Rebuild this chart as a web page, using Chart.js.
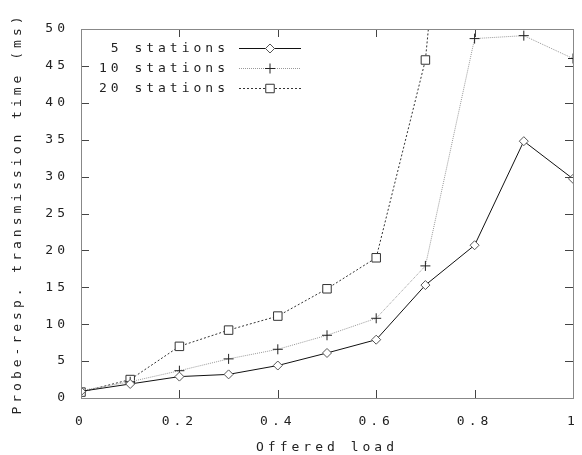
<!DOCTYPE html>
<html>
<head>
<meta charset="utf-8">
<script src="https://cdn.jsdelivr.net/npm/chart.js@4/dist/chart.umd.min.js"></script>
<style>
  body { margin: 0; background: #fff; }
  canvas { display: block; }
</style>
</head>
<body>
<canvas id="grafico" width="582" height="455"></canvas>
<script>
// datos
const cargas = [0, 0.1, 0.2, 0.3, 0.4, 0.5, 0.6, 0.7, 0.8, 0.9, 1.0];
const etiquetas = ['5 stations', '10 stations', '20 stations'];
const est5 = [0.9, 1.9, 2.9, 3.2, 4.4, 6.1, 7.9, 15.3, 20.7, 34.8, 29.7];
const est10 = [1.0, 2.2, 3.7, 5.3, 6.6, 8.5, 10.8, 17.9, 48.7, 49.1, 46.0];
const est20 = [0.8, 2.5, 7.0, 9.2, 11.1, 14.8, 19.0, 45.8, 115, null, null];
const ticksX = [0, 0.2, 0.4, 0.6, 0.8, 1];
const ticksY = [0, 5, 10, 15, 20, 25, 30, 35, 40, 45, 50];

const fuente = { family: '"DejaVu Sans Mono", monospace', size: 13 };
const espaciado = '4px';

function puntos(vals) {
  return vals.map((v, i) => ({ x: cargas[i], y: v }));
}

// espaciado de letras (estilo gnuplot)
const letras = {
  id: 'letras',
  beforeUpdate(chart) { chart.ctx.letterSpacing = espaciado; },
  beforeDraw(chart) { chart.ctx.letterSpacing = espaciado; }
};

// marco y marcas hacia adentro en los cuatro lados
const marco = {
  id: 'marco',
  afterDatasetsDraw(chart) {
    const ctx = chart.ctx;
    const a = chart.chartArea;
    const sx = chart.scales.x, sy = chart.scales.y;
    const largo = 8;
    ctx.save();
    ctx.lineWidth = 1;
    ctx.strokeStyle = '#444';
    ctx.beginPath();
    sx.ticks.forEach(t => {
      const px = Math.round(sx.getPixelForValue(t.value)) + 0.5;
      ctx.moveTo(px, a.bottom); ctx.lineTo(px, a.bottom - largo);
      ctx.moveTo(px, a.top); ctx.lineTo(px, a.top + largo);
    });
    sy.ticks.forEach(t => {
      const py = Math.round(sy.getPixelForValue(t.value)) + 0.5;
      ctx.moveTo(a.left, py); ctx.lineTo(a.left + largo, py);
      ctx.moveTo(a.right, py); ctx.lineTo(a.right - largo, py);
    });
    ctx.stroke();
    ctx.strokeStyle = '#888';
    ctx.strokeRect(Math.round(a.left) + 0.5, Math.round(a.top) + 0.5,
      Math.round(a.right - a.left), Math.round(a.bottom - a.top));
    ctx.restore();
  }
};

// leyenda a la gnuplot: texto, linea y marcador
const leyenda = {
  id: 'leyenda',
  afterDraw(chart) {
    const ctx = chart.ctx;
    ctx.save();
    ctx.letterSpacing = espaciado;
    ctx.font = fuente.size + 'px ' + fuente.family;
    ctx.textAlign = 'right';
    ctx.textBaseline = 'middle';
    chart.data.datasets.forEach((ds, i) => {
      const y = 48 + 20 * i;
      ctx.fillStyle = '#222';
      ctx.fillText(ds.label, 229, y + 1);
      ctx.strokeStyle = ds.borderColor;
      ctx.lineWidth = 1;
      ctx.setLineDash(ds.borderDash || []);
      ctx.beginPath();
      ctx.moveTo(239, y + 0.5); ctx.lineTo(301, y + 0.5);
      ctx.stroke();
      ctx.setLineDash([]);
      ctx.strokeStyle = ds.pointBorderColor;
      ctx.fillStyle = ds.pointBackgroundColor;
      Chart.helpers.drawPoint(ctx, {
        pointStyle: ds.pointStyle, radius: ds.pointRadius, rotation: 0, borderWidth: 1
      }, 270, y + 0.5);
    });
    ctx.restore();
  }
};

new Chart(document.getElementById('grafico'), {
  type: 'line',
  data: {
    datasets: [{
      label: etiquetas[0],
      data: puntos(est5),
      borderColor: '#111',
      borderWidth: 1,
      pointStyle: 'rectRot',
      pointRadius: 4.5,
      pointBorderColor: '#555',
      pointBackgroundColor: '#fff',
      pointBorderWidth: 1
    }, {
      label: etiquetas[1],
      data: puntos(est10),
      borderColor: '#999',
      borderWidth: 1,
      borderDash: [1, 1],
      pointStyle: 'cross',
      pointRadius: 5,
      pointBorderColor: '#222',
      pointBackgroundColor: '#fff',
      pointBorderWidth: 1
    }, {
      label: etiquetas[2],
      data: puntos(est20),
      borderColor: '#333',
      borderWidth: 1,
      borderDash: [2, 2],
      pointStyle: 'rect',
      pointRadius: 6,
      pointBorderColor: '#333',
      pointBackgroundColor: '#fff',
      pointBorderWidth: 1
    }]
  },
  options: {
    responsive: false,
    animation: false,
    devicePixelRatio: 1,
    layout: { padding: { top: 29, right: 9, left: 0, bottom: 0 } },
    plugins: { legend: { display: false }, tooltip: { enabled: false } },
    scales: {
      x: {
        type: 'linear',
        min: 0, max: 1,
        grid: { display: false, drawTicks: false },
        border: { display: false },
        afterBuildTicks(s) { s.ticks = ticksX.map(v => ({ value: v })); },
        ticks: {
          padding: 16, color: '#222', font: fuente,
          callback: v => String(Math.round(v * 10) / 10)
        },
        title: {
          display: true, text: 'Offered load', color: '#222', font: fuente,
          padding: { top: 0, bottom: 0 }
        },
        afterFit(s) { s.height = 57; s.paddingLeft = 0; s.paddingRight = 0; }
      },
      y: {
        min: 0, max: 50,
        grid: { display: false, drawTicks: false },
        border: { display: false },
        afterBuildTicks(s) { s.ticks = ticksY.map(v => ({ value: v })); },
        ticks: { padding: 12, color: '#222', font: fuente },
        title: {
          display: true, text: 'Probe-resp. transmission time (ms)', color: '#222', font: fuente,
          padding: { top: 10, bottom: 0 }
        },
        afterFit(s) { s.width = 81; }
      }
    }
  },
  plugins: [letras, marco, leyenda]
});
</script>
</body>
</html>
